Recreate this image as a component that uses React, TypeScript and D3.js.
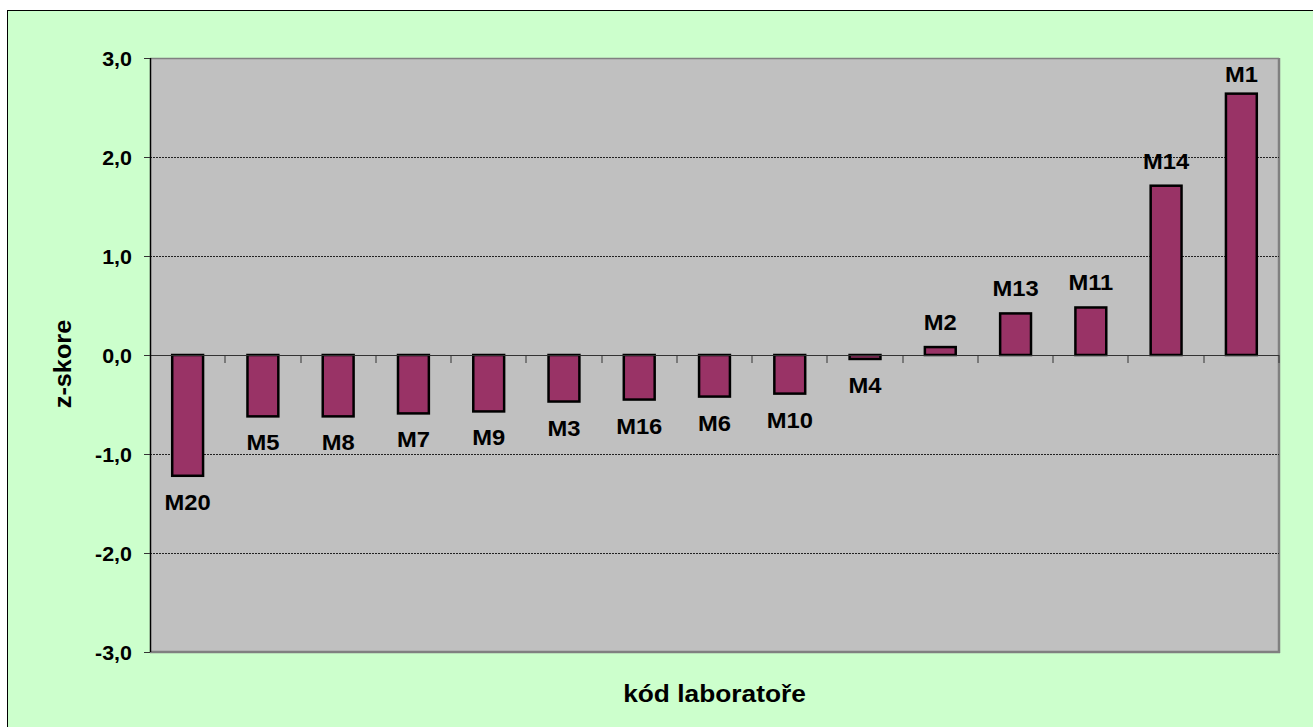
import React from "react";
import * as d3 from "d3";

const categories = ["M20", "M5", "M8", "M7", "M9", "M3", "M16", "M6", "M10", "M4", "M2", "M13", "M11", "M14", "M1"];
const zScores = [-1.22, -0.62, -0.62, -0.59, -0.57, -0.47, -0.45, -0.42, -0.39, -0.04, 0.08, 0.42, 0.48, 1.71, 2.64];
const yTicks = [3, 2, 1, 0, -1, -2, -3];
const gridValues = [2, 1, -1, -2];
const yTitle = "z-skore";
const xTitle = "kód laboratoře";

const W = 1313;
const H = 727;
const plot = { left: 150, top: 58, right: 1279, bottom: 652 };
const FONT = "'Liberation Sans', Arial, sans-serif";

function Stretch({ x, y, sx, anchor, size, children }: { x: number; y: number; sx: number; anchor: string; size: number; children: React.ReactNode }) {
  return (
    <g transform={`translate(${x},${y}) scale(${sx},1)`}>
      <text x={0} y={0} textAnchor={anchor as any} fontSize={size} fontWeight="bold" fill="#000">
        {children}
      </text>
    </g>
  );
}

export default function App() {
  const x = d3.scaleBand<string>().domain(categories).range([plot.left, plot.right]).paddingInner(0.59).paddingOuter(0.295);
  const band = d3.scaleBand<string>().domain(categories).range([plot.left, plot.right]).padding(0);
  const y = d3.scaleLinear().domain([-3, 3]).range([plot.bottom, plot.top]);
  const fmt = (v: number) => d3.format(".1f")(v).replace(".", ",").replace("−", "-");
  const y0 = y(0);

  return (
    <svg width={W} height={H} style={{ position: "absolute", left: 0, top: 0 }} fontFamily={FONT}>
      <rect x={0} y={0} width={W} height={H} fill="#ffffff" />
      <rect x={7.5} y={10.5} width={W + 10} height={H + 10} fill="#CCFFCC" stroke="#000" strokeWidth={1} />
      {/* plot area */}
      <rect x={plot.left} y={plot.top} width={plot.right - plot.left} height={plot.bottom - plot.top} fill="#C0C0C0" />
      <line x1={plot.left} x2={plot.right} y1={plot.top + 0.5} y2={plot.top + 0.5} stroke="#808080" strokeWidth={1.5} />
      <line x1={plot.right} x2={plot.right} y1={plot.top} y2={plot.bottom + 1} stroke="#808080" strokeWidth={2.5} />
      <line x1={plot.left} x2={plot.right + 1} y1={plot.bottom} y2={plot.bottom} stroke="#808080" strokeWidth={2.5} />
      {/* gridlines */}
      {gridValues.map((v) => (
        <line key={v} x1={plot.left} x2={plot.right} y1={Math.round(y(v)) + 0.5} y2={Math.round(y(v)) + 0.5} stroke="#222" strokeWidth={1} strokeDasharray="2 1" />
      ))}
      {/* bars */}
      {categories.map((c, i) => {
        const v = zScores[i];
        const top = Math.min(y(v), y0);
        const h = Math.abs(y(v) - y0);
        return (
          <rect key={c} x={x(c)} y={top} width={x.bandwidth()} height={h} fill="#993366" stroke="#000" strokeWidth={2.5} />
        );
      })}
      {/* x axis line at zero */}
      <line x1={plot.left} x2={plot.right} y1={Math.round(y0) + 0.5} y2={Math.round(y0) + 0.5} stroke="#333" strokeWidth={1} />
      {categories.map((c) => (
        <line key={"t" + c} x1={Math.round(band(c)! + band.bandwidth())} x2={Math.round(band(c)! + band.bandwidth())} y1={y0} y2={y0 + 8} stroke="#333" strokeWidth={1} />
      ))}
      {/* y axis */}
      <line x1={plot.left + 0.5} x2={plot.left + 0.5} y1={plot.top} y2={plot.bottom} stroke="#000" strokeWidth={1.5} />
      {yTicks.map((v) => (
        <g key={v}>
          <line x1={plot.left - 6} x2={plot.left} y1={Math.round(y(v)) + 0.5} y2={Math.round(y(v)) + 0.5} stroke="#333" strokeWidth={1} />
          <Stretch x={132} y={y(v) + 7.5} sx={1.1} anchor="end" size={19.5}>
            {fmt(v)}
          </Stretch>
        </g>
      ))}
      {/* data labels */}
      {categories.map((c, i) => {
        const v = zScores[i];
        const center = x(c)! + x.bandwidth() / 2;
        let cy = v >= 0 ? y(v) - 25 : y(v) + 26;
        cy = Math.max(cy, plot.top + 16);
        return (
          <Stretch key={"l" + c} x={center} y={cy + 8} sx={1.08} anchor="middle" size={22}>
            {c}
          </Stretch>
        );
      })}
      {/* titles */}
      <g transform={`translate(71, ${364}) rotate(-90) scale(1.1,1)`}>
        <text x={0} y={0} textAnchor="middle" fontSize={23} fontWeight="bold" fill="#000">
          {yTitle}
        </text>
      </g>
      <Stretch x={(plot.left + plot.right) / 2} y={702} sx={1.12} anchor="middle" size={23.5}>
        {xTitle}
      </Stretch>
    </svg>
  );
}
